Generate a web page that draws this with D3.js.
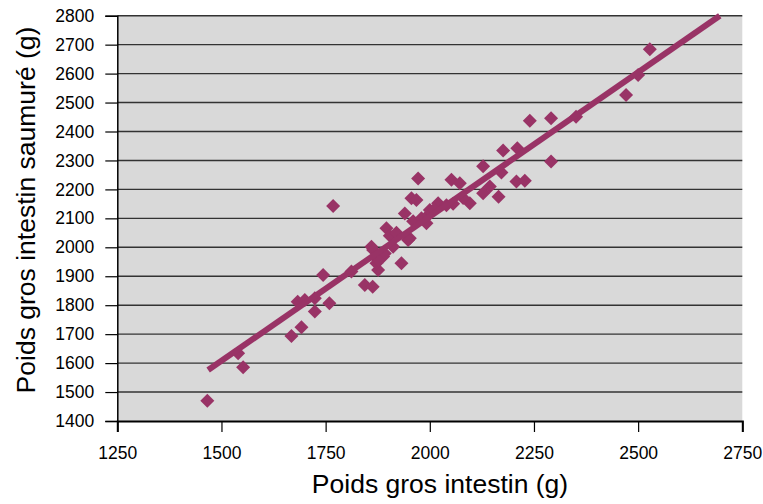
<!DOCTYPE html>
<html><head><meta charset="utf-8">
<script src="https://cdn.jsdelivr.net/npm/d3@7"></script>
<style>body{margin:0;background:#fff}svg{display:block}</style>
</head><body>
<svg id="c" width="763" height="504"></svg>
<script>
const xValues = [1466,1540,1552,1668,1692,1683,1700,1724,1724,1759,1744,1768,1812,1844,1863,1860,1876,1872,1888,1876,1864,1892,1896,1904,1912,1932,1940,1952,1956,1968,1972,1992,2000,2000,2020,2052,2072,2056,2096,2128,2128,2144,2165,2172,2176,2208,2210,2228,2240,2291,2291,2351,2471,2500,2528,1920,1960,2010,2040,2080,1980,1948];
const yValues = [1470,1634,1586,1694,1724,1812,1818,1824,1778,1807,1904,2143,1916,1870,1864,2002,1922,1945,1968,1956,1991,1979,2066,2040,2002,1945,2117,2031,2169,2163,2238,2083,2117,2129,2152,2233,2221,2150,2152,2187,2280,2210,2175,2258,2334,2227,2342,2230,2437,2446,2296,2451,2526,2595,2684,2050,2090,2130,2145,2170,2100,2025];
const trendX = [1468, 2696];
const trendY = [1576, 2800];
const xTicks = [1250,1500,1750,2000,2250,2500,2750];
const yTicks = [1400,1500,1600,1700,1800,1900,2000,2100,2200,2300,2400,2500,2600,2700,2800];
const xTitle = "Poids gros intestin (g)";
const yTitle = "Poids gros intestin saumuré (g)";

const L = 117.3, R = 742.3, T = 15.7, B = 421;
const svg = d3.select("#c");
const x = d3.scaleLinear().domain([1250, 2750]).range([L, R]);
const y = d3.scaleLinear().domain([1400, 2800]).range([B, T]);
const col = "#993366";
const font = "'Liberation Sans', Arial, sans-serif";

svg.append("rect").attr("x", L).attr("y", T).attr("width", R - L).attr("height", B - T).attr("fill", "#d9d9d9");

// gridlines
svg.append("g").selectAll("line").data(yTicks.filter(d => d > 1400)).join("line")
  .attr("x1", L).attr("x2", R).attr("y1", d => y(d)).attr("y2", d => y(d))
  .attr("stroke", "#333").attr("stroke-width", 1.4);

// y axis
const ya = svg.append("g").attr("transform", `translate(${L},0)`)
  .call(d3.axisLeft(y).tickValues(yTicks).tickSize(12).tickPadding(11).tickFormat(d3.format("d")));
ya.select(".domain").attr("stroke", "#000").attr("stroke-width", 1.5);
ya.selectAll(".tick line").attr("stroke", "#000").attr("stroke-width", 1.2);
ya.selectAll("text").attr("font-family", font).attr("font-size", 17.5).attr("fill", "#000");

// x axis
const xa = svg.append("g").attr("transform", `translate(0,${B})`)
  .call(d3.axisBottom(x).tickValues(xTicks).tickSize(11).tickPadding(15).tickFormat(d3.format("d")));
xa.select(".domain").attr("stroke", "#000").attr("stroke-width", 2);
xa.selectAll(".tick line").attr("stroke", "#000").attr("stroke-width", 1.2);
xa.selectAll("text").attr("font-family", font).attr("font-size", 17.5).attr("fill", "#000");

// points
const pts = xValues.map((v, i) => [v, yValues[i]]);
const sym = d3.symbol().type(d3.symbolSquare).size(98);
svg.append("g").selectAll("path").data(pts).join("path")
  .attr("d", sym)
  .attr("transform", d => `translate(${x(d[0])},${y(d[1])}) rotate(45)`)
  .attr("fill", col);

// trend line
svg.append("line")
  .attr("x1", x(trendX[0])).attr("y1", y(trendY[0]))
  .attr("x2", x(trendX[1])).attr("y2", y(trendY[1]))
  .attr("stroke", col).attr("stroke-width", 6);

// titles
svg.append("text").attr("x", 440).attr("y", 493).attr("text-anchor", "middle")
  .attr("font-family", font).attr("font-size", 26.5).attr("fill", "#000").text(xTitle);
svg.append("text").attr("transform", "translate(35,210) rotate(-90)").attr("text-anchor", "middle")
  .attr("font-family", font).attr("font-size", 26.5).attr("fill", "#000").text(yTitle);
</script>
</body></html>
